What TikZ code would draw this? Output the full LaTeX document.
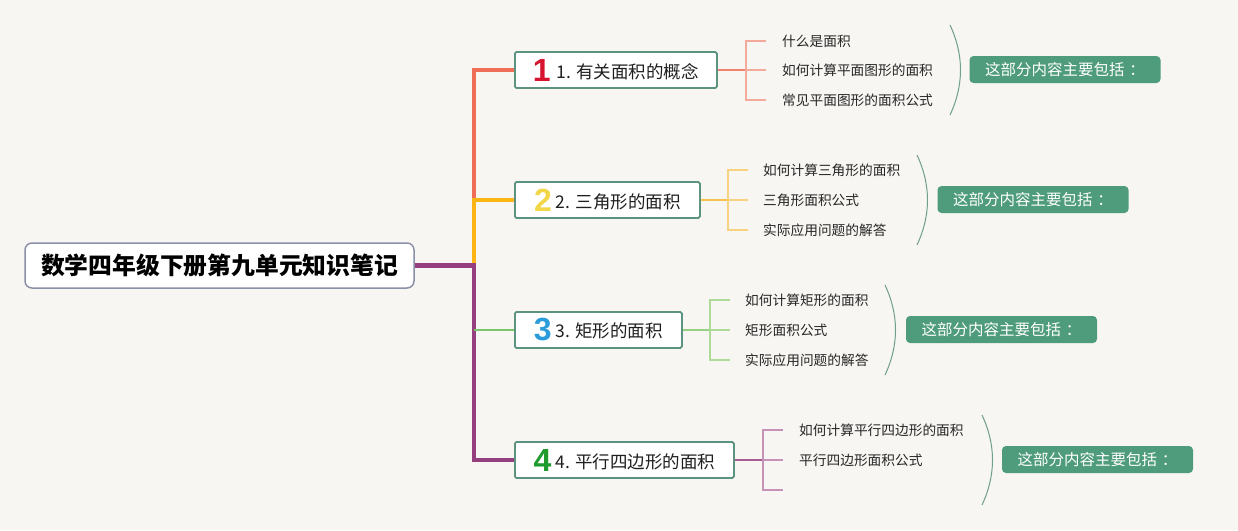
\documentclass[tikz,border=0pt]{standalone}
\usepackage{fontspec}
\setmainfont{Noto Sans CJK SC}
\newfontfamily\numfont{Liberation Sans}
\definecolor{bg}{HTML}{F7F6F2}
\definecolor{cred}{HTML}{EF6E58}
\definecolor{cora}{HTML}{FDB515}
\definecolor{cgrn}{HTML}{7CC46A}
\definecolor{cpur}{HTML}{94407F}
\definecolor{lred}{HTML}{F3AA9B}
\definecolor{lora}{HTML}{F8D27E}
\definecolor{lgrn}{HTML}{AEDA98}
\definecolor{lpur}{HTML}{C692B8}
\definecolor{mred}{HTML}{EE8470}
\definecolor{mora}{HTML}{F7C24C}
\definecolor{mgrn}{HTML}{96CF82}
\definecolor{mpur}{HTML}{A45E93}
\definecolor{teal}{HTML}{5B9380}
\definecolor{sumg}{HTML}{4E9C7B}
\definecolor{arcc}{HTML}{6E9F8A}
\definecolor{rootb}{HTML}{8B8FA8}
\definecolor{ired}{HTML}{D7142E}
\definecolor{iyel}{HTML}{F1D648}
\definecolor{iblu}{HTML}{2B9CDA}
\definecolor{igrn}{HTML}{1F9A2C}
\newcommand{\ico}[2]{{\numfont\bfseries\fontsize{32}{32}\selectfont\color{#1}\raisebox{-3pt}{#2}}}
\newcommand{\sumtext}{这部分内容主要包括\hspace{0.3em}：}
\tikzset{
  rootbox/.style={draw=rootb, line width=1.5pt, fill=white, rounded corners=7pt, minimum width=389pt, minimum height=45pt, inner sep=0pt, font=\bfseries\fontsize{23.8}{26}\selectfont, text=black},
  topic/.style={draw=teal, line width=1.8pt, fill=white, rounded corners=1.5pt, minimum height=36pt, inner sep=0pt, font=\fontsize{17.5}{20}\selectfont, text=black!88, anchor=west},
  subt/.style={inner sep=0pt, anchor=west, font=\fontsize{13.7}{16}\selectfont, text=black!85},
  sumbox/.style={fill=sumg, rounded corners=4pt, minimum width=191pt, minimum height=27pt, inner sep=0pt, text=white, font=\fontsize{15.5}{18}\selectfont},
  trunk/.style={line width=4.5pt, line join=miter},
  arcst/.style={draw=arcc, line width=1pt},
  brk/.style={line width=1.5pt},
  lnk/.style={line width=2pt},
}
\begin{document}
\begin{tikzpicture}[x=1pt,y=-1pt]
\useasboundingbox (0,0) rectangle (1238,530);
\fill[bg] (0,0) rectangle (1238,530);

% root
\node[rootbox] (root) at (219.5,265.5) {数学四年级下册第九单元知识笔记};

% topics
\node[topic, minimum width=202pt] (b1) at (514,70) {\ico{ired}{1}\hspace{6pt}1. 有关面积的概念};
\node[topic, minimum width=185pt] (b2) at (514,200) {\ico{iyel}{2}\hspace{4pt}2. 三角形的面积};
\node[topic, minimum width=167pt] (b3) at (514,330) {\ico{iblu}{3}\hspace{4pt}3. 矩形的面积};
\node[topic, minimum width=219pt] (b4) at (514,460) {\ico{igrn}{4}\hspace{4pt}4. 平行四边形的面积};

% trunk
\coordinate (tj1) at (474,70);
\coordinate (tj2) at (474,200);
\coordinate (tj3) at (474,330);
\coordinate (tj4) at (474,460);
\coordinate (tjr) at (474,265.5);
\draw[trunk, cred] (b1.west) -- (tj1) -- ([yshift=2.25pt]tj2);
\draw[trunk, cora] (b2.west) -- (tj2) -- (tjr);
\draw[trunk, cpur] (root.east) -- (tjr) -- (tj4) -- (b4.west);
\draw[line width=2pt, cgrn] (tj3) -- (b3.west);

% sub items branch 1
\node[subt] (s1a) at (782,41) {什么是面积};
\node[subt] (s1b) at (782,70) {如何计算平面图形的面积};
\node[subt] (s1c) at (782,100) {常见平面图形的面积公式};
\coordinate (k1) at (746,70);
\draw[lnk, mred] (b1.east) -- (k1);
\draw[brk, lred] ([xshift=-16pt]s1a.west) -| (k1) |- ([xshift=-16pt]s1c.west);
\draw[brk, lred] (k1) -- ([xshift=-16pt]s1b.west);

% branch 2
\node[subt] (s2a) at (763,170) {如何计算三角形的面积};
\node[subt] (s2b) at (763,200) {三角形面积公式};
\node[subt] (s2c) at (763,230) {实际应用问题的解答};
\coordinate (k2) at (728,200);
\draw[lnk, mora] (b2.east) -- (k2);
\draw[brk, lora] ([xshift=-15pt]s2a.west) -| (k2) |- ([xshift=-15pt]s2c.west);
\draw[brk, lora] (k2) -- ([xshift=-15pt]s2b.west);

% branch 3
\node[subt] (s3a) at (745,300) {如何计算矩形的面积};
\node[subt] (s3b) at (745,330) {矩形面积公式};
\node[subt] (s3c) at (745,360) {实际应用问题的解答};
\coordinate (k3) at (710,330);
\draw[lnk, mgrn] (b3.east) -- (k3);
\draw[brk, lgrn] ([xshift=-15pt]s3a.west) -| (k3) |- ([xshift=-15pt]s3c.west);
\draw[brk, lgrn] (k3) -- ([xshift=-15pt]s3b.west);

% branch 4
\node[subt] (s4a) at (799,430) {如何计算平行四边形的面积};
\node[subt] (s4b) at (799,460) {平行四边形面积公式};
\coordinate (s4c) at (783,490);
\coordinate (k4) at (763,460);
\draw[lnk, mpur] (b4.east) -- (k4);
\draw[brk, lpur] ([xshift=-16pt]s4a.west) -| (k4) |- (s4c);
\draw[brk, lpur] (k4) -- ([xshift=-16pt]s4b.west);

% arcs
\coordinate (a1t) at (950,25);  \coordinate (a1b) at (950,115);
\coordinate (a2t) at (917,155); \coordinate (a2b) at (917,245);
\coordinate (a3t) at (885,285); \coordinate (a3b) at (885,375);
\coordinate (a4t) at (982,415); \coordinate (a4b) at (982,505);
\draw[arcst] (a1t) .. controls (964,55) and (964,85) .. (a1b);
\draw[arcst] (a2t) .. controls (931,185) and (931,215) .. (a2b);
\draw[arcst] (a3t) .. controls (899,315) and (899,345) .. (a3b);
\draw[arcst] (a4t) .. controls (996,445) and (996,475) .. (a4b);

% summaries
\node[sumbox] (m1) at (1065,69.5) {\sumtext};
\node[sumbox] (m2) at (1033,199.5) {\sumtext};
\node[sumbox] (m3) at (1001.5,329.5) {\sumtext};
\node[sumbox] (m4) at (1097.5,459.5) {\sumtext};
\end{tikzpicture}
\end{document}
